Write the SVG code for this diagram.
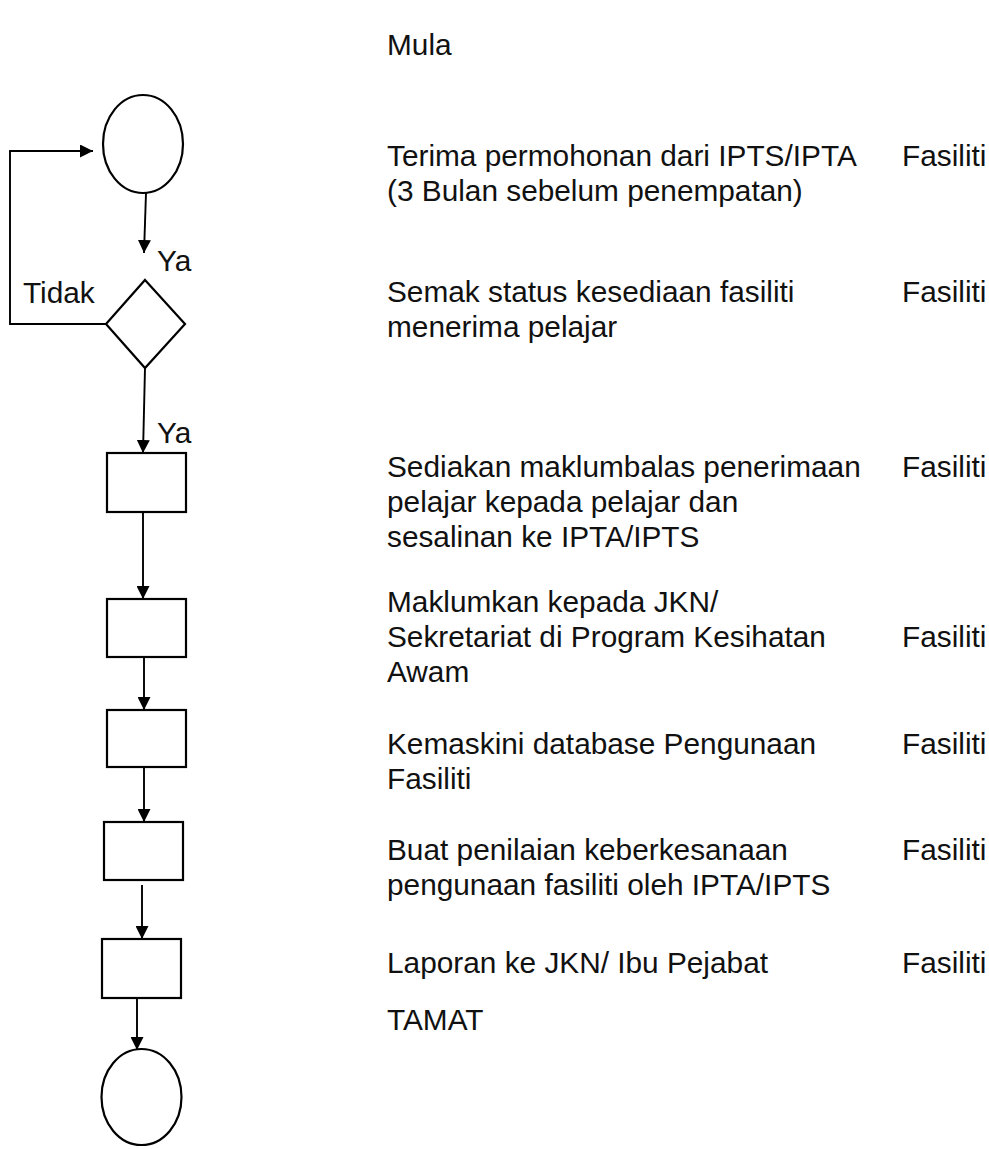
<svg xmlns="http://www.w3.org/2000/svg" width="989" height="1149" viewBox="0 0 989 1149">
<style>
.t{font-family:"Liberation Sans",Arial,sans-serif;font-size:29.8px;fill:#111}
.s{fill:none;stroke:#000;stroke-width:2.2}
.c{fill:none;stroke:#000;stroke-width:1.9}
</style>
<defs>
<marker id="ah" viewBox="0 0 13 13" refX="13" refY="6.5" markerWidth="13" markerHeight="13" orient="auto" markerUnits="userSpaceOnUse">
<path d="M0,0 L13,6.5 L0,13 z" fill="#000"/>
</marker>
</defs>
<rect width="989" height="1149" fill="#fff"/>
<g id="connectors">
<polyline class="c" points="106,324 10,324 10,151 93,151" marker-end="url(#ah)"/>
<line class="c" x1="146" y1="193" x2="144" y2="253" marker-end="url(#ah)"/>
<line class="c" x1="145" y1="368" x2="143" y2="453" marker-end="url(#ah)"/>
<line class="c" x1="143" y1="512" x2="143" y2="599" marker-end="url(#ah)"/>
<line class="c" x1="144" y1="657" x2="144" y2="710" marker-end="url(#ah)"/>
<line class="c" x1="144" y1="767" x2="144" y2="822" marker-end="url(#ah)"/>
<line class="c" x1="142" y1="885" x2="142" y2="939" marker-end="url(#ah)"/>
<line class="c" x1="137" y1="998" x2="137" y2="1050" marker-end="url(#ah)"/>
<text class="t" x="157" y="271">Ya</text>
<text class="t" x="157" y="443">Ya</text>
<text class="t" x="23" y="303">Tidak</text>
</g>
<g id="start"><ellipse class="s" cx="143" cy="144" rx="40" ry="49"/></g>
<g id="decision"><polygon class="s" points="145,280 185,324 145,368 106,324"/></g>
<g id="box1"><rect class="s" x="107" y="453" width="79" height="59"/></g>
<g id="box2"><rect class="s" x="107" y="599" width="79" height="58"/></g>
<g id="box3"><rect class="s" x="107" y="710" width="79" height="57"/></g>
<g id="box4"><rect class="s" x="104" y="822" width="79" height="58"/></g>
<g id="box5"><rect class="s" x="102" y="939" width="79" height="59"/></g>
<g id="end"><ellipse class="s" cx="141.5" cy="1097" rx="40" ry="48"/></g>
<g id="labels">
<text class="t" x="387" y="55">Mula</text>
<text class="t" x="387" y="166">Terima permohonan dari IPTS/IPTA</text>
<text class="t" x="387" y="201">(3 Bulan sebelum penempatan)</text>
<text class="t" x="902" y="166">Fasiliti</text>
<text class="t" x="387" y="302">Semak status kesediaan fasiliti</text>
<text class="t" x="387" y="337">menerima pelajar</text>
<text class="t" x="902" y="302">Fasiliti</text>
<text class="t" x="387" y="477">Sediakan maklumbalas penerimaan</text>
<text class="t" x="387" y="512">pelajar kepada pelajar dan</text>
<text class="t" x="387" y="547">sesalinan ke IPTA/IPTS</text>
<text class="t" x="902" y="477">Fasiliti</text>
<text class="t" x="387" y="612">Maklumkan kepada JKN/</text>
<text class="t" x="387" y="647">Sekretariat di Program Kesihatan</text>
<text class="t" x="387" y="682">Awam</text>
<text class="t" x="902" y="647">Fasiliti</text>
<text class="t" x="387" y="754">Kemaskini database Pengunaan</text>
<text class="t" x="387" y="789">Fasiliti</text>
<text class="t" x="902" y="754">Fasiliti</text>
<text class="t" x="387" y="860">Buat penilaian keberkesanaan</text>
<text class="t" x="387" y="895">pengunaan fasiliti oleh IPTA/IPTS</text>
<text class="t" x="902" y="860">Fasiliti</text>
<text class="t" x="387" y="973">Laporan ke JKN/ Ibu Pejabat</text>
<text class="t" x="902" y="973">Fasiliti</text>
<text class="t" x="387" y="1030">TAMAT</text>
</g>
</svg>
